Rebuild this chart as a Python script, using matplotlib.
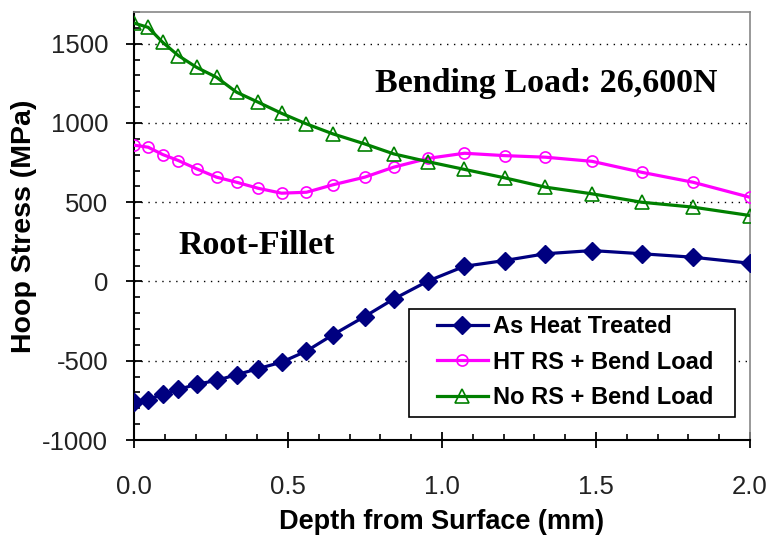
import matplotlib
matplotlib.use("Agg")
import matplotlib.pyplot as plt
import matplotlib.patches as patch
from matplotlib.ticker import MultipleLocator

plt.rcParams['font.family'] = ['Liberation Sans', 'DejaVu Sans']
plt.rcParams['axes.unicode_minus'] = False

# ------ data -------------------------------------------------------------
depth = [0.0, 0.046, 0.093, 0.144, 0.203, 0.268, 0.333, 0.403, 0.479, 0.560,
         0.646, 0.749, 0.843, 0.956, 1.073, 1.203, 1.336, 1.487, 1.648, 1.815, 2.0]
as_heat_treated = [-760, -745, -712, -681, -649, -624, -588, -550, -509, -439,
                   -336, -221, -111, 4, 96, 132, 175, 195, 175, 153, 115]
ht_rs_bend = [860, 847, 801, 763, 711, 658, 626, 588, 557, 563,
              610, 658, 721, 777, 809, 794, 784, 758, 689, 626, 531]
no_rs_bend = [1630, 1603, 1509, 1425, 1351, 1288, 1194, 1131, 1061, 994,
              931, 868, 805, 755, 707, 654, 595, 553, 500, 469, 416]

labels = ["As Heat Treated", "HT RS + Bend Load", "No RS + Bend Load"]
xtick_labels = ["0.0", "0.5", "1.0", "1.5", "2.0"]

fig = plt.figure(figsize=(7.72, 5.35), dpi=100)
ax = fig.add_axes([134/772, 95/535, 616/772, 428/535])

ax.plot(depth, as_heat_treated, "-", c="#000080", lw=2.3, marker="D",
        ms=9.5, mfc="#000080", mec="#000080", label=labels[0], zorder=4)
ax.plot(depth, ht_rs_bend, "-", c="#FF00FF", lw=2.3, marker="o",
        ms=8, mfc="none", mec="#FF00FF", mew=1.2, label=labels[1], zorder=3)
ax.plot(depth, no_rs_bend, "-", c="#008000", lw=2.3, marker="^",
        ms=9.5, mfc="none", mec="#008000", mew=1.2, label=labels[2], zorder=3)

ax.set_xlim(0, 2.0)
ax.set_ylim(-1000, 1700)
ax.xaxis.set_minor_locator(MultipleLocator(0.1))
ax.yaxis.set_major_locator(MultipleLocator(500))
ax.yaxis.set_minor_locator(MultipleLocator(100))
ax.set_xticks([0, 0.5, 1.0, 1.5, 2.0])
ax.set_xticklabels(xtick_labels)

# dotted gridlines at the major y ticks only
for y in [-500, 0, 500, 1000, 1500]:
    ax.axhline(y, color="k", lw=1, ls=(0, (1, 4)), zorder=1)

ax.tick_params(axis="both", which="major", direction="inout", length=11,
               width=1.3, labelsize=18.5, colors="k", labelcolor="#222222")
ax.tick_params(axis="y", which="major", pad=13)
ax.tick_params(axis="x", which="major", pad=20)
ax.tick_params(axis="both", which="minor", direction="in", length=4, width=1.2)

for s in ["left", "bottom"]:
    ax.spines[s].set_linewidth(1.5)
    ax.spines[s].set_color("k")
for s in ["top", "right"]:
    ax.spines[s].set_linewidth(1.2)
    ax.spines[s].set_color("#888888")

ax.set_xlabel("Depth from Surface (mm)", fontsize=19.5, fontweight="bold", labelpad=7)
ax.set_ylabel("Hoop Stress (MPa)", fontsize=20.5, fontweight="bold", labelpad=4)

ax.text(0.392, 0.832, "Bending Load: 26,600N", transform=ax.transAxes,
        fontsize=24.5, fontweight="bold", family="Liberation Serif", va="center")
ax.text(0.072, 0.455, "Root-Fillet", transform=ax.transAxes,
        fontsize=24.5, fontweight="bold", family="Liberation Serif", va="center")

# legend entries without a frame, and a separate rectangular frame around them
leg = ax.legend(loc="upper left", bbox_to_anchor=(0.492, 0.291), numpoints=1,
                prop={"size": 17, "weight": "bold"}, frameon=False,
                handlelength=2.15, handletextpad=0.2, borderpad=0,
                labelspacing=0.52, borderaxespad=0)
leg.set_zorder(6)
frame = patch.Rectangle((0.446, 0.054), 0.530, 0.252, transform=ax.transAxes,
                        facecolor="white", edgecolor="k", lw=1.2, zorder=5)
ax.add_patch(frame)

fig.savefig("out.png", dpi=100)
